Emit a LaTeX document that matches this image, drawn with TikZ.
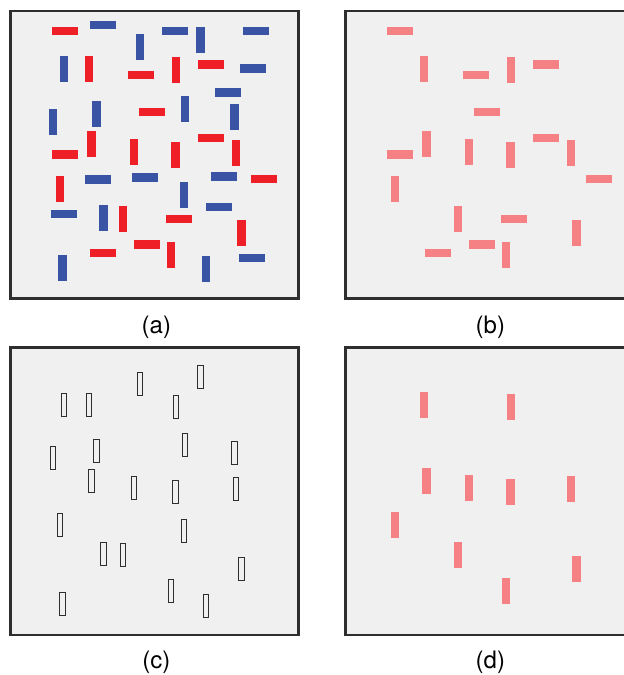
\documentclass[tikz,border=0pt]{standalone}
\usepackage{fontspec}
\setmainfont{TeX Gyre Heros}
\definecolor{barred}{HTML}{EE1F26}
\definecolor{barblue}{HTML}{3A54A5}
\definecolor{barpink}{HTML}{F58185}
\definecolor{panelbg}{HTML}{F0F0F0}
\definecolor{frameline}{HTML}{2E2E2E}

% bar centres of panel (a), pixels from top left
\def\redH{65/31, 141.3/74.7, 211/64.5, 152.3/111.8, 64.7/154.5, 211.3/137.8, 264.3/179.2, 179.3/219.2, 147.3/244.5, 103/253.2}
\def\redV{89.2/68.8, 175.8/70.2, 91.3/144.2, 134.2/151.8, 175.5/155.2, 235.8/152.5, 60/188.8, 122.7/218.8, 241.3/232.5, 170.7/254.8}
\def\blueH{103.2/25.2, 175.3/31.2, 255.8/31.2, 252.7/68.5, 227.5/92.5, 98.3/179.5, 145.3/177.5, 223.7/176.5, 63.7/213.8, 219.3/206.8, 252/258.2}
\def\blueV{140.2/47.2, 200.5/40.2, 63.8/68.5, 96.5/114.2, 185.2/108.8, 53.2/121.8, 234.5/116.8, 183.8/194.8, 103.5/217.5, 62.5/267.8, 206.2/269.3}

\begin{document}
\begin{tikzpicture}[x=1pt, y=-1pt,
    panel/.style={fill=panelbg, draw=frameline, line width=2.5pt},
    outline/.style={draw=frameline, line width=1pt},
    tag/.style={font=\fontsize{24}{28}\selectfont, inner sep=0pt}]
    \useasboundingbox (0,0) rectangle (624,675);
    \fill[white] (0,0) rectangle (624,675);
    \clip (0,0) rectangle (624,675);
    % panel (a)
    \draw[panel] (10.5,11) rectangle (298.5,298.5);
    \foreach \x/\y in \redH {\fill[barred] (\x-13,\y-4.2) rectangle (\x+13,\y+4.2);}
    \foreach \x/\y in \redV {\fill[barred] (\x-4.2,\y-13) rectangle (\x+4.2,\y+13);}
    \foreach \x/\y in \blueH {\fill[barblue] (\x-13,\y-4.2) rectangle (\x+13,\y+4.2);}
    \foreach \x/\y in \blueV {\fill[barblue] (\x-4.2,\y-13) rectangle (\x+4.2,\y+13);}
    % panel (b)
    \begin{scope}[shift={(335,0)}]
        \draw[panel] (10.5,11) rectangle (298.5,298.5);
        \foreach \x/\y in \redH {\fill[barpink] (\x-13,\y-4.2) rectangle (\x+13,\y+4.2);}
        \foreach \x/\y in \redV {\fill[barpink] (\x-4.2,\y-13) rectangle (\x+4.2,\y+13);}
    \end{scope}
    % panel (c)
    \begin{scope}[shift={(0,336.5)}]
        \draw[panel] (10.5,11) rectangle (298.5,298.5);
        \foreach \x/\y in \redV {\draw[outline] (\x-2.7,\y-11.5) rectangle (\x+2.7,\y+11.5);}
        \foreach \x/\y in \blueV {\draw[outline] (\x-2.7,\y-11.5) rectangle (\x+2.7,\y+11.5);}
    \end{scope}
    % panel (d)
    \begin{scope}[shift={(335,336.5)}]
        \draw[panel] (10.5,11) rectangle (298.5,298.5);
        \foreach \x/\y in \redV {\fill[barpink] (\x-4.2,\y-13) rectangle (\x+4.2,\y+13);}
    \end{scope}
    % captions
    \node[tag] (taga) at (156.4,327) {(a)};
    \node[tag] (tagb) at (490.4,327) {(b)};
    \node[tag] (tagc) at (156.4,662) {(c)};
    \node[tag] (tagd) at (490.4,662) {(d)};
\end{tikzpicture}
\end{document}
